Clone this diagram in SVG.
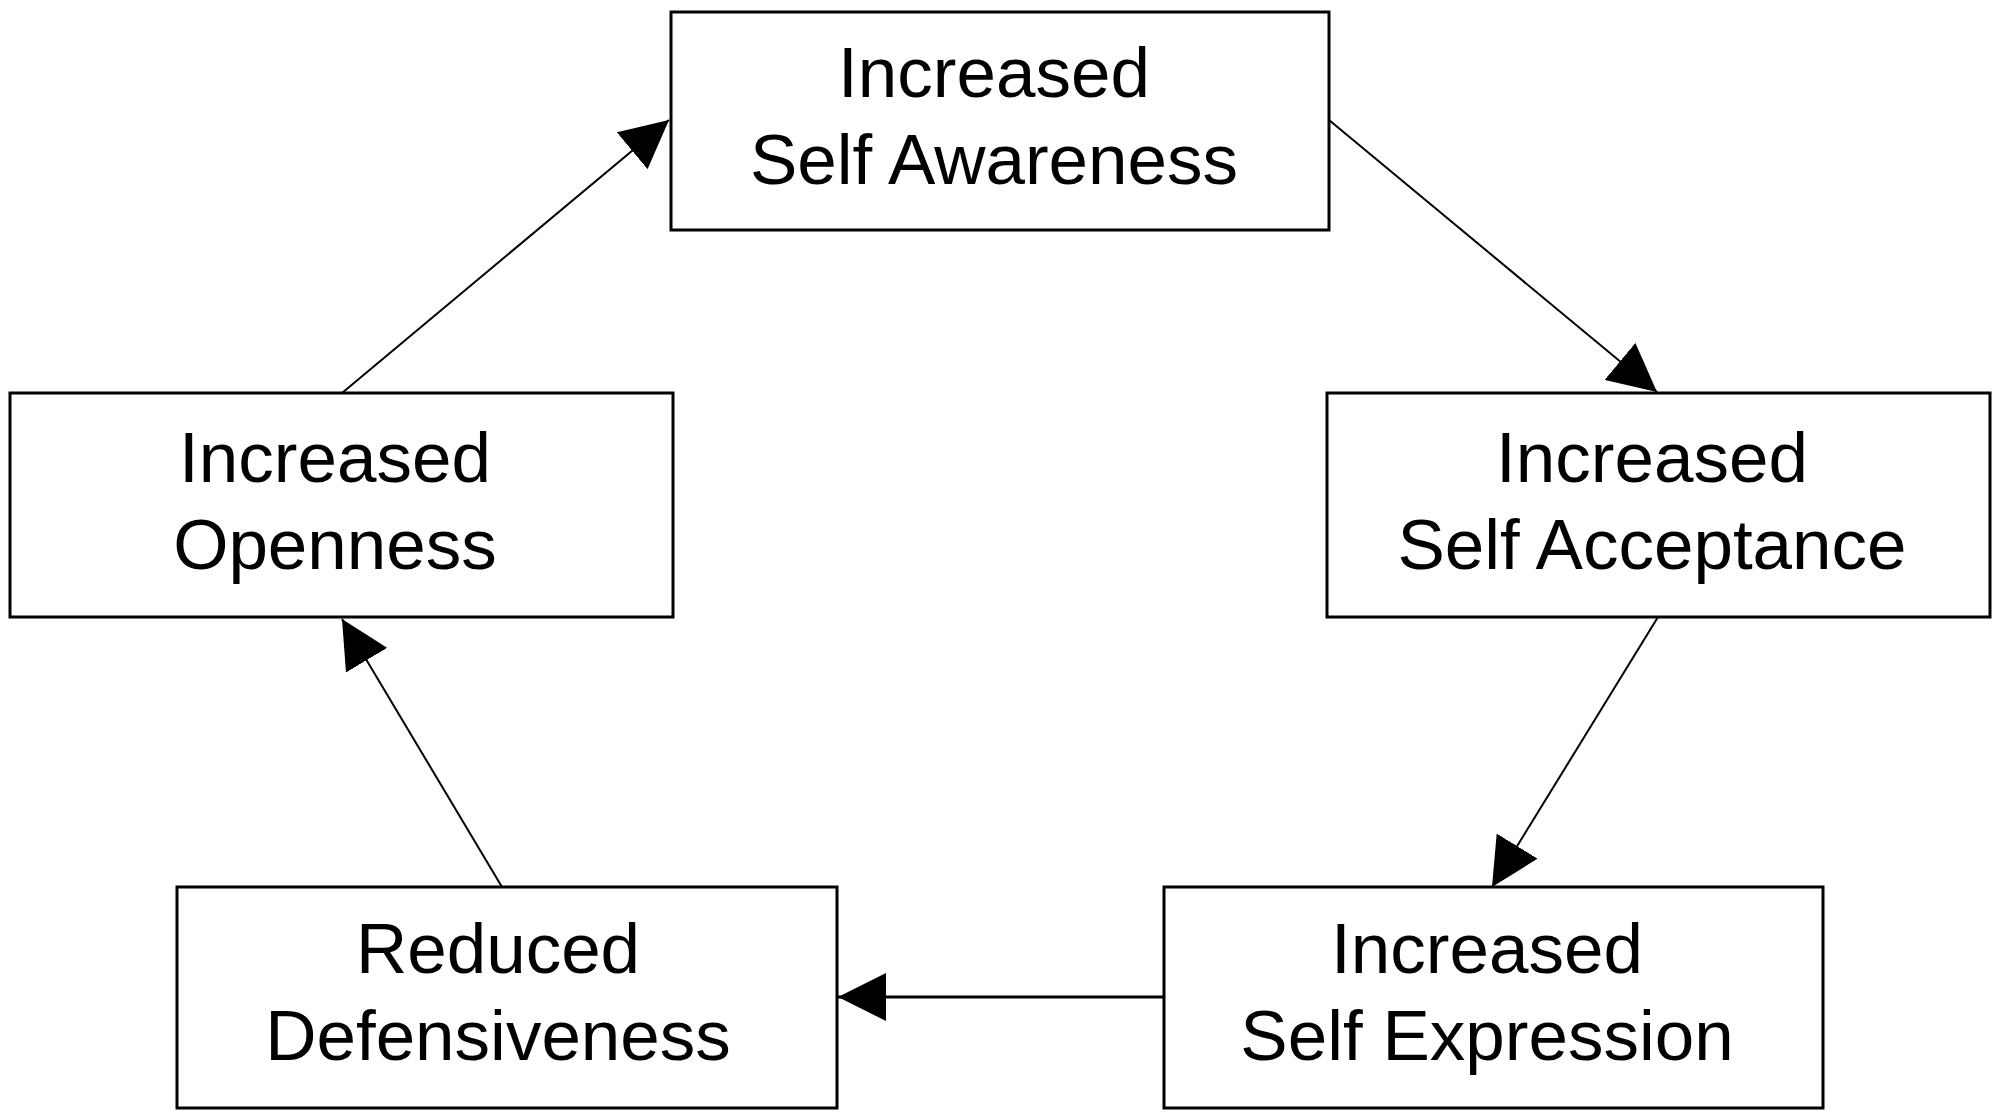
<svg xmlns="http://www.w3.org/2000/svg" width="2000" height="1115" viewBox="0 0 2000 1115">
<style>
.box{fill:#fff;stroke:#000;stroke-width:3}
.lbl{font-family:"Liberation Sans",Arial,sans-serif;font-size:71px;fill:#000;text-anchor:middle}
.con{stroke:#000;stroke-width:2;fill:none;marker-end:url(#ah)}
</style>
<defs>
<marker id="ah" markerUnits="userSpaceOnUse" markerWidth="48" markerHeight="48" refX="48" refY="24" orient="auto">
<path d="M0,0 L48,24 L0,48 z" fill="#000"/>
</marker>
</defs>
<rect width="2000" height="1115" fill="#fff"/>
<g id="connectors">
<line class="con" x1="342" y1="393" x2="669" y2="120"/>
<line class="con" x1="1329" y1="120" x2="1657" y2="392"/>
<line class="con" x1="1658" y1="617" x2="1492" y2="887"/>
<line class="con" x1="1164" y1="997" x2="838" y2="997" style="stroke-width:3"/>
<line class="con" x1="502" y1="887" x2="342" y2="619"/>
</g>
<g id="node-awareness">
<rect class="box" x="671" y="12" width="658" height="218"/>
<text class="lbl" x="994" y="97">Increased</text>
<text class="lbl" x="994" y="184">Self Awareness</text>
</g>
<g id="node-acceptance">
<rect class="box" x="1327" y="393" width="663" height="224"/>
<text class="lbl" x="1652" y="482">Increased</text>
<text class="lbl" x="1652" y="569">Self Acceptance</text>
</g>
<g id="node-expression">
<rect class="box" x="1164" y="887" width="659" height="221"/>
<text class="lbl" x="1487" y="973">Increased</text>
<text class="lbl" x="1487" y="1060">Self Expression</text>
</g>
<g id="node-defensiveness">
<rect class="box" x="177" y="887" width="660" height="221"/>
<text class="lbl" x="498" y="973">Reduced</text>
<text class="lbl" x="498" y="1060">Defensiveness</text>
</g>
<g id="node-openness">
<rect class="box" x="10" y="393" width="663" height="224"/>
<text class="lbl" x="335" y="482">Increased</text>
<text class="lbl" x="335" y="569">Openness</text>
</g>
</svg>
